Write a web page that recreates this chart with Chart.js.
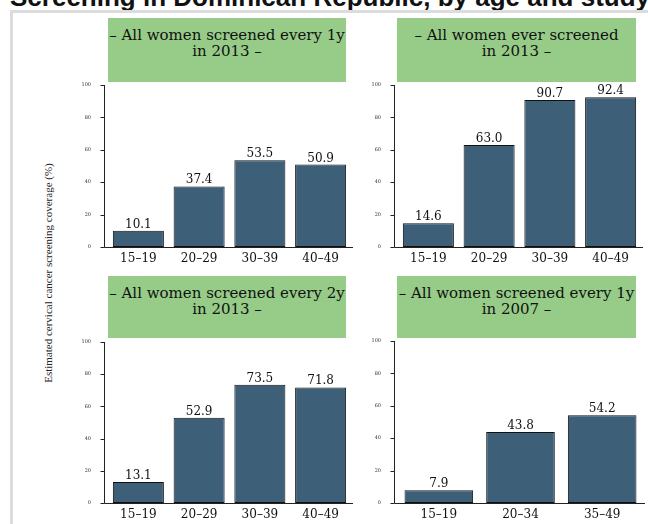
<!DOCTYPE html>
<html>
<head>
<meta charset="utf-8">
<script src="https://cdn.jsdelivr.net/npm/chart.js@4.4.1/dist/chart.umd.min.js"></script>
<style>
  body { margin: 0; width: 648px; height: 524px; overflow: hidden; background: #fff; position: relative; }
  #frame { position: absolute; left: 10px; top: 10px; width: 700px; height: 600px;
           border-left: 3px solid #dcdcdc; border-top: 3px solid #dcdcdc; }
  #title { position: absolute; left: 10px; top: -15px; white-space: nowrap;
           font: bold 26px "Liberation Sans", Arial, sans-serif; line-height: 24px; color: #111; }
  .head { position: absolute; background: #96cc87; color: #111; text-align: center;
          font: 15px "DejaVu Serif", serif; line-height: 16px; padding-top: 9px; box-sizing: border-box; }
  #ylab { position: absolute; left: -102px; top: 267px; width: 300px; text-align: center;
          transform: rotate(-90deg); font: 11px "Liberation Serif", serif; color: #222; white-space: nowrap; }
  canvas { position: absolute; }
</style>
</head>
<body>
<div id="title">Screening in Dominican Republic, by age and study</div>
<div id="frame"></div>
<div id="ylab">Estimated cervical cancer screening coverage (%)</div>

<div class="head" style="left:108px;top:18px;width:238px;height:64px">– All women screened every 1y<br>in 2013 –</div>
<div class="head" style="left:397px;top:18px;width:239px;height:64px">– All women ever screened<br>in 2013 –</div>
<div class="head" style="left:108px;top:276px;width:238px;height:62px">– All women screened every 2y<br>in 2013 –</div>
<div class="head" style="left:397px;top:276px;width:239px;height:62px">– All women screened every 1y<br>in 2007 –</div>

<canvas id="c1" width="280" height="190" style="left:80px;top:80px"></canvas>
<canvas id="c2" width="280" height="190" style="left:370px;top:80px"></canvas>
<canvas id="c3" width="280" height="189" style="left:80px;top:337px"></canvas>
<canvas id="c4" width="280" height="190" style="left:370px;top:336px"></canvas>

<script>
// data
var ages2013 = ["15–19", "20–29", "30–39", "40–49"];
var ages2007 = ["15–19", "20–34", "35–49"];
var every1y2013 = [10.1, 37.4, 53.5, 50.9];
var ever2013 = [14.6, 63.0, 90.7, 92.4];
var every2y2013 = [13.1, 52.9, 73.5, 71.8];
var every1y2007 = [7.9, 43.8, 54.2];
var yTicks = [0, 20, 40, 60, 80, 100];

var serif = "DejaVu Serif";

// y axis sits a few px left of the bars, like the original
var axesPlugin = {
  id: "axes",
  beforeDatasetsDraw: function (chart) {
    var ctx = chart.ctx, a = chart.chartArea, y = chart.scales.y;
    var ax = a.left - 4 + 0.5;
    var y0 = Math.round(y.getPixelForValue(0)) + 0.5;
    ctx.save();
    ctx.strokeStyle = "#222";
    ctx.lineWidth = 1;
    ctx.beginPath();
    ctx.moveTo(ax, Math.round(y.getPixelForValue(100)));
    ctx.lineTo(ax, y0);
    y.ticks.forEach(function (t) {
      var py = Math.round(y.getPixelForValue(t.value)) + 0.5;
      ctx.moveTo(ax - 4, py);
      ctx.lineTo(ax, py);
    });
    ctx.moveTo(ax, y0);
    ctx.lineTo(a.right + 2, y0);
    ctx.stroke();
    ctx.restore();
  }
};

var valuePlugin = {
  id: "values",
  afterDatasetsDraw: function (chart) {
    var ctx = chart.ctx;
    var vals = chart.data.datasets[0].data;
    ctx.save();
    ctx.font = "12px " + serif;
    ctx.fillStyle = "#111";
    ctx.textAlign = "center";
    ctx.textBaseline = "alphabetic";
    chart.getDatasetMeta(0).data.forEach(function (bar, i) {
      ctx.fillText(vals[i].toFixed(1), bar.x, bar.y - 3);
    });
    ctx.restore();
  }
};

function noPad(s) {
  s.paddingTop = 0; s.paddingBottom = 0; s.paddingLeft = 0; s.paddingRight = 0;
}

function makeChart(id, labels, values, padRight) {
  return new Chart(document.getElementById(id), {
    type: "bar",
    data: {
      labels: labels,
      datasets: [{
        data: values,
        backgroundColor: "#3d5f78",
        borderColor: "#111",
        borderWidth: 1,
        borderSkipped: false,
        barPercentage: 0.84,
        categoryPercentage: 1
      }]
    },
    options: {
      responsive: false,
      animation: false,
      devicePixelRatio: 1,
      layout: { padding: { top: 5, right: padRight, left: 0, bottom: 0 } },
      plugins: { legend: { display: false }, tooltip: { enabled: false } },
      scales: {
        x: {
          grid: { display: false },
          border: { display: false },
          ticks: { font: { family: serif, size: 12 }, color: "#111", padding: -3 },
          afterFit: function (s) { s.height = 23; noPad(s); }
        },
        y: {
          min: 0, max: 100,
          afterBuildTicks: function (s) { s.ticks = yTicks.map(function (v) { return { value: v }; }); },
          grid: { display: false },
          border: { display: false },
          ticks: { font: { family: serif, size: 5 }, color: "#333", padding: 9 },
          afterFit: function (s) { s.width = 28; noPad(s); }
        }
      }
    },
    plugins: [axesPlugin, valuePlugin]
  });
}

makeChart("c1", ages2013, every1y2013, 9);
makeChart("c2", ages2013, ever2013, 9);
makeChart("c3", ages2013, every2y2013, 9);
makeChart("c4", ages2007, every1y2007, 7);
</script>
</body>
</html>
